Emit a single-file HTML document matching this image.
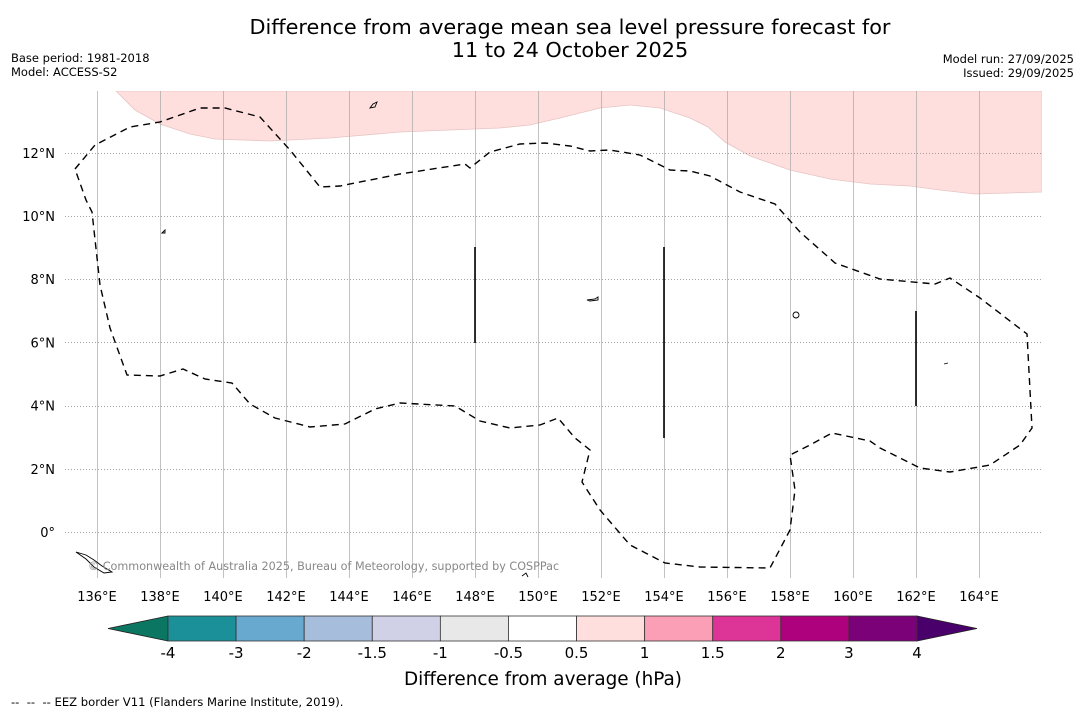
<!DOCTYPE html>
<html><head><meta charset="utf-8">
<style>
html,body{margin:0;padding:0;background:#fff;}
svg{display:block;font-family:"DejaVu Sans","Liberation Sans",sans-serif;}
</style></head>
<body>
<svg id="chart" width="1085" height="713" viewBox="0 0 1085 713" xmlns="http://www.w3.org/2000/svg">
<text x="570" y="34" font-size="20.8" text-anchor="middle">Difference from average mean sea level pressure forecast for</text>
<text x="570" y="57" font-size="20.8" text-anchor="middle">11 to 24 October 2025</text>
<text x="11" y="62" font-size="11.5">Base period: 1981-2018</text>
<text x="11" y="76" font-size="11.5">Model: ACCESS-S2</text>
<text x="1074" y="63" font-size="11.5" text-anchor="end">Model run: 27/09/2025</text>
<text x="1074" y="77" font-size="11.5" text-anchor="end">Issued: 29/09/2025</text>
<defs><clipPath id="mapclip"><rect x="65" y="91" width="977" height="487"/></clipPath></defs>
<g id="map" clip-path="url(#mapclip)">
<path fill="#fedfde" stroke="#e8c4c4" stroke-width="0.8" d="M116,91 L135,110 L160,124 L190,134 L215,139 L270,141 L330,138 L400,132 L500,128 L530,125 L560,118 L600,108 L630,105 L660,108 L690,118 L708,127 L725,142 L750,156 L790,170 L830,179 L870,184 L910,186 L940,190 L975,194 L1042,192 L1042,91 Z"/>
<g id="grid"></g>
<path fill="none" stroke="#000" stroke-width="1.4" stroke-dasharray="7,5" d="M75,169 L95,145 L130,127 L160,122 L200,108 L225,108 L260,117 L290,150 L320,187 L340,186 L400,174 L465,164 L470,168 L490,152 L520,144 L545,143 L570,146 L590,151 L610,150 L640,155 L670,170 L690,171 L710,176 L740,192 L775,204 L800,232 L835,263 L880,279 L935,284 L950,278 L980,298 L1027,334 L1032,428 L1020,445 L990,465 L950,472 L920,468 L880,448 L870,441 L832,433 L810,445 L790,455 L795,490 L790,530 L770,568 L700,567 L665,563 L630,545 L600,510 L582,482 L590,450 L575,438 L558,418 L540,425 L510,428 L480,421 L455,406 L400,403 L375,409 L345,424 L310,427 L275,418 L250,404 L232,383 L205,379 L183,369 L160,376 L127,375 L110,328 L100,285 L92,212 L86,200 Z"/>
<g stroke="#000" stroke-width="1.6">
<line x1="475" y1="247" x2="475" y2="343"/>
<line x1="664" y1="247" x2="664" y2="438"/>
<line x1="916" y1="311" x2="916" y2="406"/>
</g>
<g fill="none" stroke="#000" stroke-width="0.9">
<path d="M370,108 l3,-4 l4,-2 l-2,5 z"/>
<path d="M162,233 l3,-3 l0,3 z"/>
<path d="M587,300 l8,-1 l3,-2 l0,3 l-8,1 z"/>
<ellipse cx="796" cy="315" rx="3" ry="3"/>
<path d="M76,552 l10,3 l8,5 l8,6 l10,6 l-8,1 l-10,-6 l-8,-8 z"/>
<path d="M944,364 l4,-1"/>
<path d="M522,576 l4,-3 l2,4"/>
</g>
<text x="88" y="570" font-size="11.2" fill="#888">© Commonwealth of Australia 2025, Bureau of Meteorology, supported by COSPPac</text>
</g>
<g id="axislabels"></g>
<g id="colorbar"></g>
<text x="543" y="685" font-size="18.4" text-anchor="middle">Difference from average (hPa)</text>
<text x="11" y="706" font-size="11.6" style="white-space:pre" xml:space="preserve">--  --  -- EEZ border V11 (Flanders Marine Institute, 2019).</text>
</svg>
<script>
const lonTicks=[136,138,140,142,144,146,148,150,152,154,156,158,160,162,164];
const latTicks=[0,2,4,6,8,10,12];
const cbLevels=[-4,-3,-2,-1.5,-1,-0.5,0.5,1,1.5,2,3,4];
const cbLabels=["-4","-3","-2","-1.5","-1","-0.5","0.5","1","1.5","2","3","4"];
const cbColors=["#1b9098","#67a9cf","#a6bddb","#d0d1e6","#e8e8e8","#ffffff","#fedfde","#fa9fb5","#dd3497","#ae017e","#7a0177"];
const cbLow="#0b7763", cbHigh="#49006a";
const NS="http://www.w3.org/2000/svg";
function xLon(l){return 97+(l-136)*31.5;}
function yLat(l){return 532-l*31.6;}
function mk(tag,attrs,parent){const e=document.createElementNS(NS,tag);for(const k in attrs)e.setAttribute(k,attrs[k]);parent.appendChild(e);return e;}
const grid=document.getElementById('grid'),al=document.getElementById('axislabels');
lonTicks.forEach(l=>{
 const x=Math.round(xLon(l))+0.5;
 const g=mk('line',{x1:x,y1:91,x2:x,y2:578,stroke:'#a8a8a8','stroke-width':0.7},grid);
 
 
 const t=mk('text',{x:xLon(l),y:601,'font-size':13,'text-anchor':'middle'},al);
 
 
 t.textContent=l+'°E';
});
latTicks.forEach(l=>{
 const y=Math.round(yLat(l))+0.5;
 const g=mk('line',{x1:65,y1:y,x2:1042,y2:y,stroke:'#888','stroke-width':0.8,'stroke-dasharray':'1,2'},grid);
 
 
 const t=mk('text',{x:55,y:yLat(l)+5,'font-size':13,'text-anchor':'end'},al);
 
 
 t.textContent=l===0?'0°':l+'°N';
});
const cb=document.getElementById('colorbar');
const n=cbColors.length,x0=168,x1=917,w=(x1-x0)/n,yt=616,yb=641;
function xCb(i){return x0+i*w;}
const lo=mk('polygon',{points:`${x0},${yt} ${108},${(yt+yb)/2} ${x0},${yb}`,fill:cbLow,stroke:'#222','stroke-width':0.8},cb);


const hi=mk('polygon',{points:`${x1},${yt} ${977},${(yt+yb)/2} ${x1},${yb}`,fill:cbHigh,stroke:'#222','stroke-width':0.8},cb);


cbColors.forEach((c,i)=>{
 const r=mk('rect',{x:xCb(i),y:yt,width:w,height:yb-yt,fill:c,stroke:'#333','stroke-width':0.8},cb);
 
 
});
cbLevels.forEach((v,i)=>{
 const t=mk('text',{x:xCb(i),y:658,'font-size':15,'text-anchor':'middle'},cb);
 
 
 t.textContent=cbLabels[i];
});
</script>
</body></html>
